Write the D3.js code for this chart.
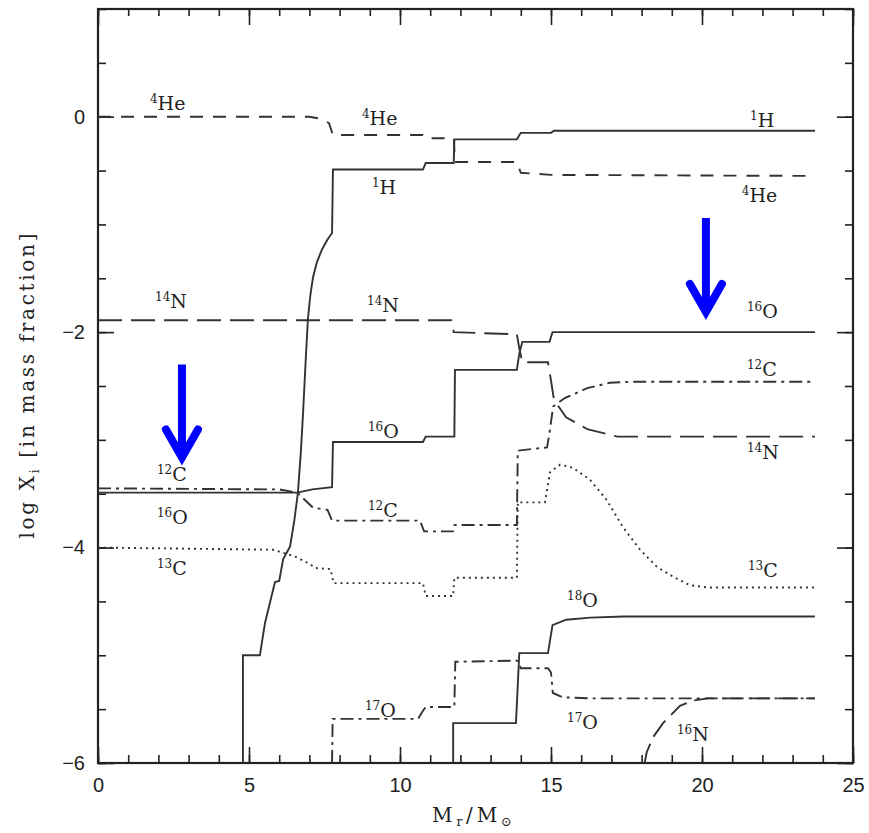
<!DOCTYPE html>
<html>
<head>
<meta charset="utf-8">
<script src="https://cdn.jsdelivr.net/npm/d3@7/dist/d3.min.js"></script>
<style>
  body { margin: 0; background: #fff; }
  .tick text { font-family: "Liberation Sans", Arial, sans-serif; font-size: 20px; fill: #222; }
  .tick line { stroke: #222; stroke-width: 1.6; }
  .iso { font-family: "DejaVu Serif", "Liberation Serif", serif; fill: #222; }
</style>
</head>
<body>
<div id="chart"></div>
<script>
// log X_i (mass fraction) against M_r/M_sun
var h1 = [[4.80,-6],[4.80,-5.0],[5.36,-5.0],[5.53,-4.70],[5.86,-4.32],[6.0,-4.31],[6.13,-4.11],
  [6.36,-3.99],[6.5,-3.75],[6.62,-3.49],[6.72,-3.1],[6.79,-2.75],[6.87,-2.3],[6.95,-1.88],[7.03,-1.66],
  [7.12,-1.49],[7.25,-1.35],[7.42,-1.23],[7.6,-1.14],[7.75,-1.08],[7.78,-0.49],[10.76,-0.49],
  [10.85,-0.43],[11.78,-0.43],[11.80,-0.21],[13.87,-0.21],[14.0,-0.15],[15.0,-0.15],[15.1,-0.13],[23.74,-0.13]];

var he4 = [[0,0],[7.0,0],[7.4,-0.02],[7.65,-0.06],[7.78,-0.17],[10.76,-0.17],[10.85,-0.2],
  [11.78,-0.2],[11.82,-0.42],[13.87,-0.42],[14.0,-0.52],[15.0,-0.54],[23.74,-0.55]];

var n14 = [[0,-1.89],[11.7,-1.89],[11.78,-2.0],[13.87,-2.02],[13.95,-2.15],[14.05,-2.28],[14.9,-2.28],
  [15.0,-2.45],[15.1,-2.63],[15.5,-2.79],[16.2,-2.9],[17.2,-2.97],[23.74,-2.97]];

var o16 = [[0,-3.49],[6.6,-3.49],[7.1,-3.46],[7.75,-3.44],[7.78,-3.02],[10.76,-3.02],[10.85,-2.97],
  [11.8,-2.97],[11.82,-2.35],[13.87,-2.35],[13.95,-2.2],[14.05,-2.09],[14.95,-2.09],[15.05,-2.0],[23.74,-2.0]];

var c12 = [[0,-3.45],[6.0,-3.46],[6.6,-3.49],[7.12,-3.63],[7.6,-3.65],[7.75,-3.75],[10.66,-3.75],
  [10.8,-3.85],[11.76,-3.85],[11.8,-3.79],[13.87,-3.79],[13.9,-3.1],[14.87,-3.07],[14.97,-2.9],
  [15.07,-2.69],[15.47,-2.61],[16.2,-2.52],[16.95,-2.47],[17.7,-2.46],[23.74,-2.46]];

var c13 = [[0,-4.0],[5.8,-4.02],[6.5,-4.08],[7.0,-4.15],[7.2,-4.19],[7.7,-4.2],[7.8,-4.33],
  [10.76,-4.33],[10.85,-4.45],[11.76,-4.45],[11.8,-4.28],[13.87,-4.28],[13.9,-3.58],[14.8,-3.58],
  [14.97,-3.3],[15.3,-3.23],[15.73,-3.26],[16.29,-3.37],[16.85,-3.56],[17.38,-3.81],[17.95,-4.02],
  [18.51,-4.18],[19.04,-4.27],[19.6,-4.35],[20.17,-4.37],[23.74,-4.37]];

var o18 = [[11.76,-6],[11.76,-5.63],[13.84,-5.63],[13.95,-4.98],[14.9,-4.98],[15.05,-4.72],
  [15.5,-4.67],[16.3,-4.65],[17.4,-4.64],[23.74,-4.64]];

var o17 = [[7.75,-6],[7.77,-5.59],[10.6,-5.59],[10.75,-5.52],[10.85,-5.48],[11.8,-5.48],[11.83,-5.06],
  [13.9,-5.05],[14.0,-5.12],[14.9,-5.12],[15.0,-5.16],[15.06,-5.35],[15.4,-5.39],[16.3,-5.40],[23.74,-5.40]];

var n16 = [[18.1,-6],[18.17,-5.9],[18.38,-5.76],[18.71,-5.63],[19.27,-5.47],[19.7,-5.42],[20.2,-5.40],[23.74,-5.40]];

var series = [
  { pts: h1,  dash: null },
  { pts: he4, dash: "13,10" },
  { pts: n14, dash: "24,9" },
  { pts: o16, dash: null },
  { pts: c12, dash: "13,5,3,5" },
  { pts: c13, dash: "2,4" },
  { pts: o18, dash: null },
  { pts: o17, dash: "13,5,3,5" },
  { pts: n16, dash: "20,8" }
];

// isotope labels: mass number, element, x, y (data units, left/baseline)
var labels = [
  ["4","He",1.72,0.065], ["4","He",8.74,-0.074], ["1","H",21.59,-0.10], ["1","H",9.07,-0.72],
  ["4","He",21.32,-0.79], ["14","N",1.89,-1.78], ["14","N",8.91,-1.81], ["16","O",21.49,-1.87],
  ["12","C",21.49,-2.41], ["14","N",21.49,-3.18], ["12","C",1.95,-3.38], ["16","O",1.95,-3.78],
  ["13","C",1.95,-4.25], ["16","O",8.94,-2.98], ["12","C",8.94,-3.72], ["13","C",21.52,-4.27],
  ["18","O",15.53,-4.55], ["17","O",8.84,-5.57], ["17","O",15.53,-5.68], ["16","N",19.17,-5.80]
];

// blue arrows: x, top, tip
var arrows = [[2.78,-2.30,-3.20],[20.13,-0.94,-1.85]];

var width = 869, height = 833;
var x = d3.scaleLinear().domain([0, 25]).range([98, 853]);
var y = d3.scaleLinear().domain([-6, 1]).range([763, 9]);

var svg = d3.select("#chart").append("svg")
  .attr("width", width).attr("height", height);

svg.append("clipPath").attr("id", "plot")
  .append("rect").attr("x", x(0)).attr("y", y(1))
  .attr("width", x(25) - x(0)).attr("height", y(-6) - y(1));

// axes, ticks pointing inward on all four sides
function addAxis(axis, tx, ty) {
  var g = svg.append("g").attr("transform", "translate(" + tx + "," + ty + ")").call(axis);
  g.select(".domain").remove();
  return g;
}
addAxis(d3.axisBottom(x).tickValues(d3.range(0, 26, 1)).tickSize(-8).tickFormat(""), 0, y(-6));
addAxis(d3.axisBottom(x).tickValues([0, 5, 10, 15, 20, 25]).tickSize(-16).tickPadding(15).tickFormat(d3.format("d")), 0, y(-6));
addAxis(d3.axisTop(x).tickValues(d3.range(0, 26, 1)).tickSize(-7).tickFormat(""), 0, y(1));
addAxis(d3.axisTop(x).tickValues([0, 5, 10, 15, 20, 25]).tickSize(-16).tickFormat(""), 0, y(1));
addAxis(d3.axisLeft(y).tickValues(d3.range(-6, 1.01, 0.5)).tickSize(-8).tickFormat(""), x(0), 0);
addAxis(d3.axisLeft(y).tickValues([-6, -4, -2, 0]).tickSize(-16).tickPadding(13).tickFormat(d3.format("d")), x(0), 0);
addAxis(d3.axisRight(y).tickValues(d3.range(-6, 1.01, 0.5)).tickSize(-8).tickFormat(""), x(25), 0);
addAxis(d3.axisRight(y).tickValues([-6, -4, -2, 0]).tickSize(-16).tickFormat(""), x(25), 0);

svg.append("rect")
  .attr("x", x(0)).attr("y", y(1))
  .attr("width", x(25) - x(0)).attr("height", y(-6) - y(1))
  .attr("fill", "none").attr("stroke", "#222").attr("stroke-width", 2.2);

var line = d3.line()
  .x(function (d) { return x(d[0]); })
  .y(function (d) { return y(d[1]); });

svg.append("g").attr("clip-path", "url(#plot)")
  .selectAll("path").data(series).enter().append("path")
  .attr("d", function (d) { return line(d.pts); })
  .attr("fill", "none")
  .attr("stroke", "#333")
  .attr("stroke-width", 1.9)
  .attr("stroke-dasharray", function (d) { return d.dash; });

// isotope labels with superscript mass numbers
var lab = svg.selectAll(".iso").data(labels).enter().append("text")
  .attr("class", "iso")
  .attr("x", function (d) { return x(d[2]); })
  .attr("y", function (d) { return y(d[3]); });
lab.append("tspan").attr("font-size", 12).attr("dy", -7).text(function (d) { return d[0]; });
lab.append("tspan").attr("font-size", 19).attr("dy", 7).text(function (d) { return d[1]; });

// axis titles
var yl = svg.append("text")
  .attr("class", "iso")
  .attr("transform", "translate(34,386) rotate(-90)")
  .attr("text-anchor", "middle")
  .attr("font-size", 20)
  .attr("textLength", 305).attr("lengthAdjust", "spacing");
yl.append("tspan").text("log X");
yl.append("tspan").attr("font-size", 12).attr("dy", 5).text("i");
yl.append("tspan").attr("dy", -5).text(" [in mass fraction]");

var xl = svg.append("text")
  .attr("class", "iso")
  .attr("x", 472).attr("y", 822)
  .attr("text-anchor", "middle")
  .attr("font-size", 20)
  .attr("textLength", 80).attr("lengthAdjust", "spacing");
xl.append("tspan").text("M");
xl.append("tspan").attr("font-size", 12).attr("dy", 4).text("r");
xl.append("tspan").attr("dy", -4).text("/M");
xl.append("tspan").attr("font-size", 13).attr("dy", 4).text("\u2299");

// blue arrows
var ag = svg.selectAll(".arrow").data(arrows).enter().append("g").attr("class", "arrow")
  .attr("fill", "none").attr("stroke", "#0000ff").attr("stroke-width", 8);
ag.append("line")
  .attr("x1", function (d) { return x(d[0]); }).attr("x2", function (d) { return x(d[0]); })
  .attr("y1", function (d) { return y(d[1]); }).attr("y2", function (d) { return y(d[2]) - 4; });
ag.append("path")
  .attr("stroke-linecap", "round")
  .attr("d", function (d) {
    var cx = x(d[0]), ty = y(d[2]) - 4;
    return "M" + (cx - 16) + "," + (ty - 28) + "L" + cx + "," + ty + "L" + (cx + 16) + "," + (ty - 28);
  });
</script>
</body>
</html>
